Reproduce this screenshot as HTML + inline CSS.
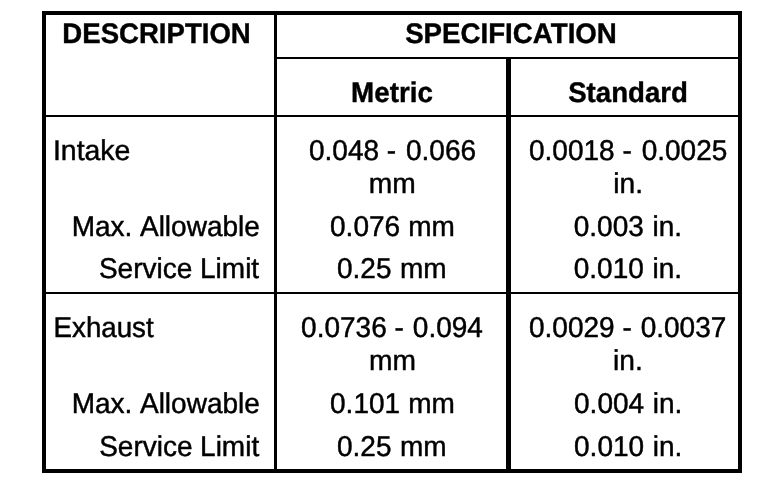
<!DOCTYPE html>
<html lang="en"><head><meta charset="utf-8"><title>Valve Clearance Specification</title>
<style>
html,body{margin:0;padding:0;background:#fff;}
body{width:768px;height:486px;position:relative;overflow:hidden;font-family:"Liberation Sans",Arial,Helvetica,sans-serif;color:#000;}
table{position:absolute;left:42px;top:11px;width:700px;height:462px;border-collapse:separate;border-spacing:0;table-layout:fixed;}
td,th{position:relative;padding:0;margin:0;border:0 solid #000;box-sizing:border-box;vertical-align:top;font-weight:normal;text-align:left;overflow:visible;}
tr>.a{border-left-width:4px;border-right-width:3px;}
tr>.m{border-right-width:5px;}
tr>.s{border-right-width:4px;}
.top>*{border-top-width:4px;}
.u>*,.u2{border-bottom-width:2px;}
.end>*{border-bottom-width:4px;}
.t{position:absolute;white-space:nowrap;font-size:28px;line-height:32px;height:32px;transform-origin:0 25px;text-rendering:geometricPrecision;-webkit-text-stroke:0.45px #000;}
th .t{font-weight:bold;-webkit-text-stroke:0.4px #000;}
</style></head><body>
<table>
<colgroup><col style="width:235px"><col style="width:234px"><col style="width:231px"></colgroup>
<thead>
<tr class="top" style="height:48px"><th class="a u2" rowspan="2"><div class="t" style="left:15px;top:3px;transform:translate(1.34px,0.00px) scale(0.9846,1.010)">DESCRIPTION</div></th><th class="s u2" colspan="2"><div class="t" style="left:127px;top:3px;transform:translate(1.15px,0.00px) scale(0.9885,1.010)">SPECIFICATION</div></th></tr>
<tr class="u" style="height:58px"><th class="m"><div class="t" style="left:73px;top:18px;transform:translate(1.04px,0.00px) scale(0.9921,1.010)">Metric</div></th><th class="s"><div class="t" style="left:56px;top:18px;transform:translate(1.17px,0.00px) scale(0.9869,1.010)">Standard</div></th></tr>
</thead>
<tbody>
<tr style="height:87px"><td class="a"><div class="t" style="left:7px;top:18px;transform:translate(-0.10px,0.00px) scale(1.0165,1.020)">Intake</div></td><td class="m"><div class="t" style="left:30px;top:18px;transform:translate(1.97px,0.00px) scale(1.0000,1.020)">0.048 - <span style="margin-left:2.05px">0.066</span></div><div class="t" style="left:91px;top:51px;transform:translate(0.84px,0.00px) scale(1.0070,1.020)">mm</div></td><td class="s"><div class="t" style="left:16px;top:18px;transform:translate(1.97px,0.00px) scale(1.0000,1.020)">0.0018 - <span style="margin-left:2.15px">0.0025</span></div><div class="t" style="left:101px;top:51px;transform:translate(1.26px,0.00px) scale(1.0070,1.020)">in.</div></td></tr>
<tr style="height:42px"><td class="a"><div class="t" style="left:25px;top:7px;transform:translate(0.68px,0.00px) scale(1.0000,1.020)">Max. <span style="margin-left:-0.18px">Allowable</span></div></td><td class="m"><div class="t" style="left:51px;top:7px;transform:translate(2.04px,0.00px) scale(1.0000,1.020)">0.076 <span style="margin-left:0.37px">mm</span></div></td><td class="s"><div class="t" style="left:61px;top:7px;transform:translate(1.77px,0.00px) scale(1.0000,1.020)">0.003 <span style="margin-left:0.90px">in.</span></div></td></tr>
<tr class="u" style="height:48px"><td class="a"><div class="t" style="left:52px;top:7px;transform:translate(0.89px,0.40px) scale(1.0000,1.020)">Service Limit</div></td><td class="m"><div class="t" style="left:58px;top:7px;transform:translate(1.97px,0.40px) scale(1.0000,1.020)">0.25 <span style="margin-left:0.78px">mm</span></div></td><td class="s"><div class="t" style="left:61px;top:7px;transform:translate(1.77px,0.40px) scale(1.0000,1.020)">0.010 <span style="margin-left:0.90px">in.</span></div></td></tr>
<tr style="height:87px"><td class="a"><div class="t" style="left:7px;top:18px;transform:translate(0.60px,0.00px) scale(0.9888,1.020)">Exhaust</div></td><td class="m"><div class="t" style="left:23px;top:18px;transform:translate(1.12px,0.00px) scale(1.0000,1.020)">0.0736 - <span style="margin-left:1.18px">0.094</span></div><div class="t" style="left:91px;top:51px;transform:translate(0.98px,-0.20px) scale(1.0070,1.020)">mm</div></td><td class="s"><div class="t" style="left:16px;top:18px;transform:translate(1.97px,0.00px) scale(1.0000,1.020)">0.0029 - <span style="margin-left:1.16px">0.0037</span></div><div class="t" style="left:101px;top:51px;transform:translate(1.10px,-0.20px) scale(1.0070,1.020)">in.</div></td></tr>
<tr style="height:42px"><td class="a"><div class="t" style="left:25px;top:7px;transform:translate(0.66px,-0.20px) scale(1.0000,1.020)">Max. <span style="margin-left:-0.16px">Allowable</span></div></td><td class="m"><div class="t" style="left:51px;top:7px;transform:translate(2.04px,-0.20px) scale(1.0000,1.020)">0.101 <span style="margin-left:0.37px">mm</span></div></td><td class="s"><div class="t" style="left:61px;top:7px;transform:translate(2.04px,-0.20px) scale(1.0000,1.020)">0.004 <span style="margin-left:0.86px">in.</span></div></td></tr>
<tr class="end" style="height:50px"><td class="a"><div class="t" style="left:52px;top:8px;transform:translate(1.14px,0.20px) scale(1.0000,1.020)">Service <span style="margin-left:-0.22px">Limit</span></div></td><td class="m"><div class="t" style="left:58px;top:8px;transform:translate(1.97px,0.20px) scale(1.0000,1.020)">0.25 <span style="margin-left:0.78px">mm</span></div></td><td class="s"><div class="t" style="left:61px;top:8px;transform:translate(2.04px,0.20px) scale(1.0000,1.020)">0.010 <span style="margin-left:0.86px">in.</span></div></td></tr>
</tbody>
</table>
</body></html>
